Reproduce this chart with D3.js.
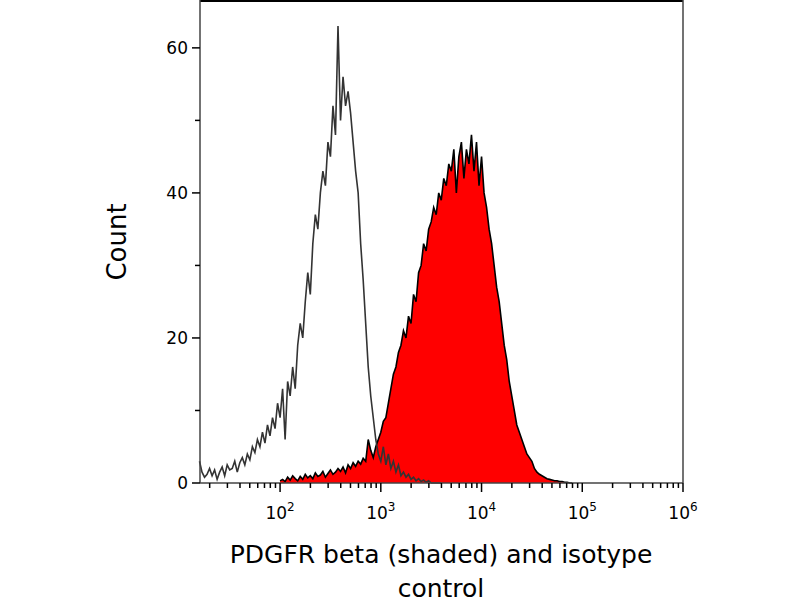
<!DOCTYPE html>
<html>
<head>
<meta charset="utf-8">
<script src="https://cdn.jsdelivr.net/npm/d3@7"></script>
<style>
  body { margin: 0; background: #fff; }
  text { font-family: "DejaVu Sans", sans-serif; }
</style>
</head>
<body>
<svg width="800" height="600"></svg>
<script>
// histogram bins on a log10 axis: first bin centre and bin width (log units)
var isoStart = 1.2, isoStep = 0.025
var isotypeCounts = [3,1.5,0.8,1.2,2,1,1.8,0.5,1.5,2.2,1,2.5,1.8,
  2,3,1.5,2.8,3.5,2.5,4,3.2,5,4.2,6,5,
  7,5.5,8,6.5,9,7.5,11,9,13,6,14,12,
  16,13,19,22,20,25,29,26,33,37,35,40,
  43,41,47,45,52,48,63,50,56,52,54,51,
  47,43,40,33,28,22,16,12,9,6,4,3,
  5,2.5,4,2,3,1.5,2.5,1,1.5,0.8,1.2,0.5,
  0.8,0.3,0.6,0.2,0.4,0.1,0.3,0,0,0,0,0]

var pdgfrStart = 2.0, pdgfrStep = 0.025
var pdgfrCounts = [0.3,0.5,0.2,0.8,0.4,1,0.6,0.3,0.9,0.5,1.2,0.7,
  1,0.6,1.4,0.9,1.1,1.6,0.8,1.3,1.8,1.2,1.5,2,
  1.6,2.2,1.4,2.5,2,2.8,2.3,3,2.6,3.4,3,6,
  4.5,3.5,5,6,7,8.5,9,11,13,15,16,18,
  19,21,20,23,22,26,25,29,30,33,32,35,
  36,38,37,40,39,42,41,44,43,46,40,45,
  47,42,46,44,48,43,47,41,45,40,38,35,
  33,30,27,25,22,19,17,14,12,10,8,7,
  6,5,4,3.5,3,2,1.5,1.2,1,0.8,0.6,0.5,
  0.4,0.3,0.3,0.2,0.2,0.1,0.1,0,0]

var yMajor = [0, 20, 40, 60]
var yMinor = [10, 30, 50]
var xDecades = [2, 3, 4, 5, 6]

var plotL = 200, plotR = 683, plotT = 0, plotB = 483

var x = d3.scaleLog().domain([Math.pow(10, 1.205), 1e6]).range([plotL, plotR])
var y = d3.scaleLinear().domain([0, 66.6]).range([plotB, plotT])

var svg = d3.select("svg")

function toPoints(start, step, counts) {
  return counts.map(function (c, i) { return [Math.pow(10, start + i * step), c] })
}
var iso = toPoints(isoStart, isoStep, isotypeCounts)
var pd = toPoints(pdgfrStart, pdgfrStep, pdgfrCounts)

var area = d3.area().x(d => x(d[0])).y0(plotB).y1(d => y(d[1]))
var line = d3.line().x(d => x(d[0])).y(d => y(d[1]))

svg.append("path").attr("d", area(pd)).attr("fill", "#ff0000")
svg.append("path").attr("d", line(pd)).attr("fill", "none").attr("stroke", "#000").attr("stroke-width", 1.6)
svg.append("path").attr("d", line(iso)).attr("fill", "none").attr("stroke", "#333").attr("stroke-width", 1.6)

// frame
svg.append("line").attr("x1", plotL).attr("x2", plotR).attr("y1", 1).attr("y2", 1).attr("stroke", "#000").attr("stroke-width", 2)
svg.append("line").attr("x1", plotR).attr("x2", plotR).attr("y1", 0).attr("y2", plotB).attr("stroke", "#444").attr("stroke-width", 1.5)
svg.append("line").attr("x1", plotL).attr("x2", plotL).attr("y1", 0).attr("y2", plotB).attr("stroke", "#444").attr("stroke-width", 1.5)
svg.append("line").attr("x1", plotL).attr("x2", plotR).attr("y1", plotB).attr("y2", plotB).attr("stroke", "#444").attr("stroke-width", 1.5)

// y axis ticks
yMajor.forEach(function (v) {
  svg.append("line").attr("x1", plotL - 8).attr("x2", plotL).attr("y1", y(v)).attr("y2", y(v)).attr("stroke", "#000").attr("stroke-width", 1.5)
  svg.append("text").attr("x", plotL - 12).attr("y", y(v) + 6).attr("text-anchor", "end").attr("font-size", 17).text(v)
})
yMinor.forEach(function (v) {
  svg.append("line").attr("x1", plotL - 5).attr("x2", plotL).attr("y1", y(v)).attr("y2", y(v)).attr("stroke", "#000").attr("stroke-width", 1.5)
})

// x axis ticks (log, ticks below)
var minor = []
for (var d = 1; d < 6; d++) for (var k = 2; k <= 9; k++) minor.push(k * Math.pow(10, d))
minor.filter(v => v >= x.domain()[0]).forEach(function (v) {
  svg.append("line").attr("x1", x(v)).attr("x2", x(v)).attr("y1", plotB).attr("y2", plotB + 5).attr("stroke", "#000").attr("stroke-width", 1.5)
})
xDecades.forEach(function (p) {
  var xv = x(Math.pow(10, p))
  svg.append("line").attr("x1", xv).attr("x2", xv).attr("y1", plotB).attr("y2", plotB + 9).attr("stroke", "#000").attr("stroke-width", 1.5)
  var t = svg.append("text").attr("x", xv).attr("y", plotB + 36).attr("text-anchor", "middle").attr("font-size", 17)
  t.append("tspan").text("10")
  t.append("tspan").attr("dy", -8).attr("font-size", 12).text(p)
})

svg.append("text").attr("transform", "translate(126,242) rotate(-90)").attr("text-anchor", "middle").attr("font-size", 26).text("Count")
svg.append("text").attr("x", 441).attr("y", 563).attr("text-anchor", "middle").attr("font-size", 25).text("PDGFR beta (shaded) and isotype")
svg.append("text").attr("x", 441).attr("y", 597).attr("text-anchor", "middle").attr("font-size", 25).text("control")
</script>
</body>
</html>
